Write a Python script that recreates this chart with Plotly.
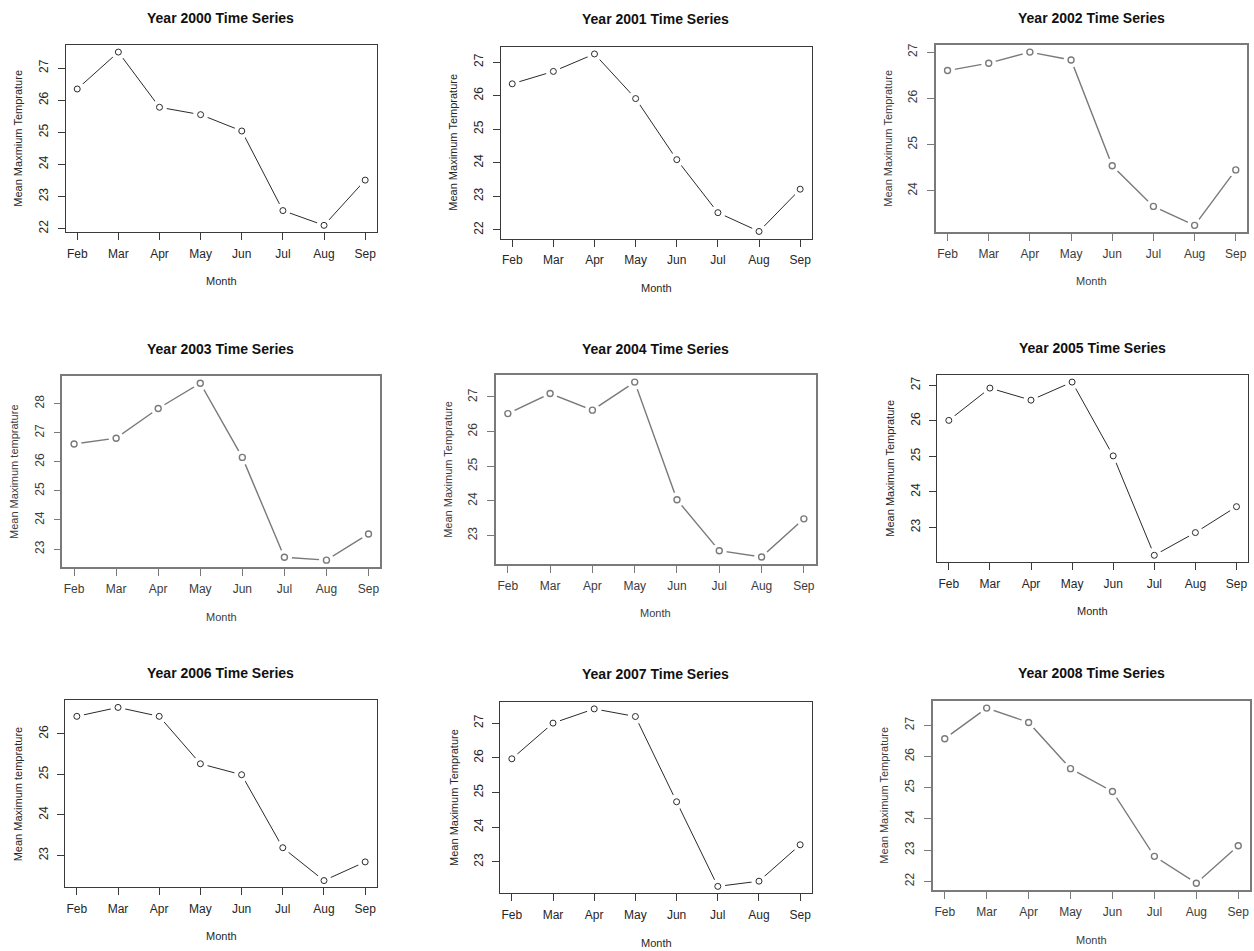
import plotly.graph_objects as go

W, H = 1254, 951

months = ["Feb", "Mar", "Apr", "May", "Jun", "Jul", "Aug", "Sep"]
years = [2000, 2001, 2002, 2003, 2004, 2005, 2006, 2007, 2008]

t2000 = [26.35, 27.50, 25.78, 25.55, 25.04, 22.56, 22.10, 23.51]
t2001 = [26.35, 26.72, 27.24, 25.91, 24.09, 22.51, 21.95, 23.21]
t2002 = [26.60, 26.76, 27.00, 26.83, 24.54, 23.66, 23.25, 24.45]
t2003 = [26.61, 26.81, 27.83, 28.70, 26.15, 22.72, 22.62, 23.52]
t2004 = [26.52, 27.10, 26.62, 27.43, 24.03, 22.56, 22.38, 23.48]
t2005 = [26.01, 26.92, 26.58, 27.09, 25.01, 22.21, 22.85, 23.58]
t2006 = [26.43, 26.65, 26.43, 25.26, 24.99, 23.19, 22.38, 22.84]
t2007 = [25.97, 27.00, 27.41, 27.19, 24.73, 22.29, 22.44, 23.49]
t2008 = [26.57, 27.55, 27.09, 25.61, 24.88, 22.80, 21.94, 23.14]

series = [t2000, t2001, t2002, t2003, t2004, t2005, t2006, t2007, t2008]

ylabels = [
    "Mean Maxmium Temprature",
    "Mean Maximum Temprature",
    "Mean Maximum Temprature",
    "Mean Maximum temprature",
    "Mean Maximum Temprature",
    "Mean Maximum Temprature",
    "Mean Maximum temprature",
    "Mean Maximum Temprature",
    "Mean Maximum Temprature",
]

# layout (pixels): box left, top, right, bottom; title (x, y); month label y; ylabel x; faded style
panels = [
    dict(box=(65.7, 43.3, 376.7, 231.0), title=(220.7, 16.0), month_y=280.0, ylab_x=18.0, faded=False),
    dict(box=(500.7, 45.0, 811.7, 237.3), title=(655.7, 16.7), month_y=287.0, ylab_x=453.0, faded=False),
    dict(box=(936.0, 43.3, 1247.3, 231.0), title=(1091.7, 16.0), month_y=280.0, ylab_x=888.0, faded=True),
    dict(box=(62.3, 375.3, 380.3, 567.0), title=(220.7, 347.7), month_y=616.7, ylab_x=13.3, faded=True),
    dict(box=(496.0, 374.3, 815.7, 563.7), title=(655.7, 347.7), month_y=613.3, ylab_x=447.3, faded=True),
    dict(box=(937.3, 374.3, 1248.0, 562.0), title=(1092.3, 346.7), month_y=611.0, ylab_x=890.0, faded=False),
    dict(box=(65.3, 700.7, 376.7, 888.3), title=(220.7, 673.3), month_y=936.7, ylab_x=18.3, faded=False),
    dict(box=(500.3, 702.0, 811.7, 894.3), title=(655.7, 673.7), month_y=944.3, ylab_x=453.3, faded=False),
    dict(box=(933.0, 701.3, 1250.0, 891.0), title=(1091.7, 673.3), month_y=941.0, ylab_x=884.0, faded=True),
]

FONT = "Liberation Sans, Arial, sans-serif"

fig = go.Figure()
annotations = []
layout_axes = {}

for i, (yr, vals, ylab, p) in enumerate(zip(years, series, ylabels, panels)):
    n = i + 1
    xa = "x" if n == 1 else f"x{n}"
    ya = "y" if n == 1 else f"y{n}"
    l, t, r, b = p["box"]
    faded = p["faded"]
    line_col = "#7a7a7a" if faded else "#2a2a2a"
    line_w = 1.4 if faded else 1.0
    box_col = "#7a7a7a" if faded else "#3a3a3a"
    box_w = 1.5 if faded else 1.0
    txt_col = "#3c3c3c" if faded else "#262626"

    # connecting line
    fig.add_trace(go.Scatter(x=months, y=vals, mode="lines", xaxis=xa, yaxis=ya,
                             line=dict(color=line_col, width=line_w), showlegend=False,
                             hoverinfo="skip"))
    # gap masks around points (R type="b")
    fig.add_trace(go.Scatter(x=months, y=vals, mode="markers", xaxis=xa, yaxis=ya,
                             marker=dict(symbol="circle", size=15, color="white",
                                         opacity=1, line=dict(width=0)),
                             showlegend=False, hoverinfo="skip"))
    # open circles
    fig.add_trace(go.Scatter(x=months, y=vals, mode="markers", xaxis=xa, yaxis=ya,
                             marker=dict(symbol="circle-open", size=6, color=line_col,
                                         line=dict(width=line_w, color=line_col)),
                             showlegend=False, name=str(yr)))

    lo, hi = min(vals), max(vals)
    pad = 0.04 * (hi - lo)
    n_cat = len(months)
    xpad = 0.04 * (n_cat - 1)

    layout_axes["xaxis" if n == 1 else f"xaxis{n}"] = dict(
        domain=[l / W, r / W], anchor=ya, type="category",
        range=[-xpad, n_cat - 1 + xpad],
        showline=True, mirror=True, linecolor=box_col, linewidth=box_w,
        ticks="outside", ticklen=7, tickwidth=1, tickcolor=box_col,
        showgrid=False, zeroline=False, ticklabelstandoff=3,
        tickfont=dict(family=FONT, size=12, color=txt_col),
    )
    layout_axes["yaxis" if n == 1 else f"yaxis{n}"] = dict(
        domain=[1 - b / H, 1 - t / H], anchor=xa,
        range=[lo - pad, hi + pad], tick0=0, dtick=1, tickmode="linear",
        showline=True, mirror=True, linecolor=box_col, linewidth=box_w,
        ticks="outside", ticklen=7, tickwidth=1, tickcolor=box_col,
        showgrid=False, zeroline=False, tickangle=-90, ticklabelstandoff=5,
        tickfont=dict(family=FONT, size=12, color=txt_col),
    )

    tx, ty = p["title"]
    annotations.append(dict(text=f"<b>Year {yr} Time Series</b>", x=tx / W, y=1 - ty / H,
                            xref="paper", yref="paper", xanchor="center", yanchor="middle",
                            showarrow=False, font=dict(family=FONT, size=14, color="#111111")))
    annotations.append(dict(text="Month", x=((l + r) / 2) / W, y=1 - p["month_y"] / H,
                            xref="paper", yref="paper", xanchor="center", yanchor="middle",
                            showarrow=False, font=dict(family=FONT, size=11, color=txt_col)))
    annotations.append(dict(text=ylab, x=p["ylab_x"] / W, y=1 - ((t + b) / 2) / H,
                            xref="paper", yref="paper", xanchor="center", yanchor="middle",
                            textangle=-90, showarrow=False,
                            font=dict(family=FONT, size=11, color=txt_col)))

fig.update_layout(
    width=W, height=H, margin=dict(l=0, r=0, t=0, b=0),
    paper_bgcolor="white", plot_bgcolor="white",
    annotations=annotations, **layout_axes,
)

fig.write_html("out.html", config={"displayModeBar": False})
